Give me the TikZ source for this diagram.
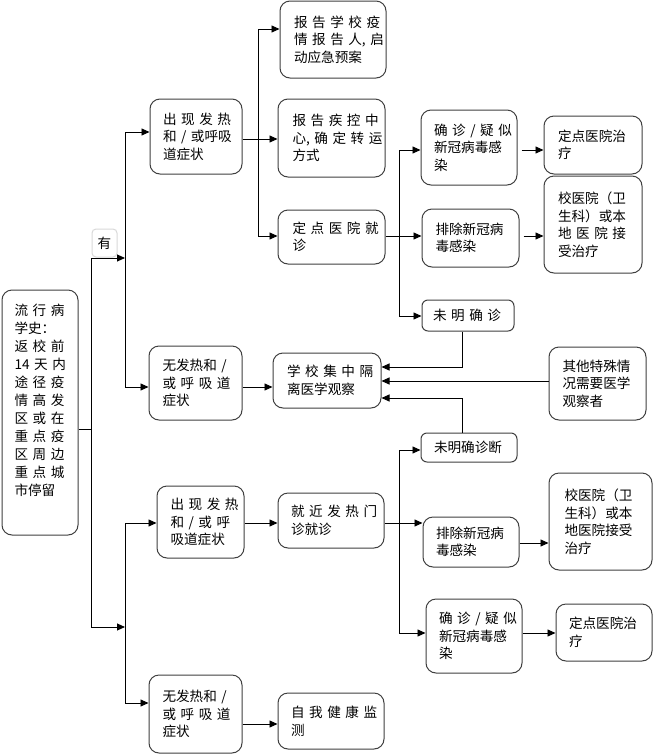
\documentclass[tikz,border=0pt]{standalone}
\usepackage{fontspec}
\newfontfamily\cjk{Noto Sans CJK SC}
\usetikzlibrary{arrows.meta}
\newcommand\J[1]{\makebox[\linewidth][s]{#1}}
\tikzset{
  bx/.style={draw=black!75, line width=1pt, rounded corners=10pt, inner sep=0pt, align=left,
    font={\cjk\fontsize{13.6}{17.5}\selectfont}},
  arr/.style={-{Triangle[length=8pt,width=7pt]}},
  ln/.style={draw=black, line width=0.9pt}
}
\begin{document}
\begin{tikzpicture}[x=1pt,y=-1pt]
\useasboundingbox[fill=white] (0,0) rectangle (654,756);
% boxes
\node[bx, minimum width=76pt, minimum height=245pt, text width=51pt, font={\cjk\fontsize{13.6}{18}\selectfont}] (A) at (40,412.5)
 {\J{流 行 病}\\学史：\\\J{返 校 前}\\\J{14 天 内}\\\J{途 径 疫}\\\J{情 高 发}\\\J{区 或 在}\\\J{重 点 疫}\\\J{区 周 边}\\\J{重 点 城}\\市停留\\[8pt]\mbox{}};
\node[bx, draw=black!15, rounded corners=4pt, minimum width=25pt, minimum height=28pt] (Y) at (104.5,243) {有};
\node[bx, minimum width=106pt, minimum height=77pt, text width=78pt] (B) at (333,39.5)
 {\J{报 告 学 校 疫}\\\J{情 报 告 人, 启}\\动应急预案};
\node[bx, minimum width=107pt, minimum height=78pt, text width=78pt] (C) at (331.5,138)
 {\J{报 告 疾 控 中}\\\J{心, 确 定 转 运}\\方式};
\node[bx, minimum width=107pt, minimum height=54pt, text width=78pt] (D) at (331.5,237)
 {\J{定 点 医 院 就}\\诊};
\node[bx, minimum width=92pt, minimum height=75pt, text width=66pt] (E) at (196,136.5)
 {\J{出 现 发 热}\\\J{和 / 或呼吸}\\道症状};
\node[bx, minimum width=93pt, minimum height=74pt, text width=66pt] (F) at (195.5,383)
 {\J{无发热和 /}\\\J{或 呼 吸 道}\\症状};
\node[bx, minimum width=108pt, minimum height=55pt, text width=80pt] (G) at (327,380.5)
 {\J{学 校 集 中 隔}\\离医学观察};
\node[bx, minimum width=96pt, minimum height=75pt, text width=70pt] (H) at (469,147.5)
 {\J{确 诊 / 疑 似}\\新冠病毒感\\染};
\node[bx, minimum width=97pt, minimum height=58pt, text width=70pt] (I) at (470.5,238)
 {排除新冠病\\毒感染};
\node[bx, rounded corners=6pt, minimum width=92pt, minimum height=31pt, text width=70pt] (Jn) at (468,315.5)
 {\J{未 明 确 诊}};
\node[bx, minimum width=98pt, minimum height=58pt, text width=70pt] (K) at (593,145)
 {定点医院治\\疗};
\node[bx, minimum width=98pt, minimum height=97pt, text width=70pt] (L) at (593,224.5)
 {校医院（卫\\生科）或本\\\J{地 医 院 接}\\受治疗};
\node[bx, minimum width=97pt, minimum height=73pt, text width=70pt] (M) at (597.5,383.5)
 {其他特殊情\\况需要医学\\观察者};
\node[bx, minimum width=87pt, minimum height=72pt, text width=60pt] (N) at (200.5,522)
 {\J{出 现 发 热}\\\J{和 / 或 呼}\\吸道症状};
\node[bx, minimum width=106pt, minimum height=55pt, text width=80pt] (O) at (331,520.5)
 {\J{就 近 发 热 门}\\诊就诊};
\node[bx, minimum width=93pt, minimum height=78pt, text width=66pt] (P) at (195.5,714)
 {\J{无发热和 /}\\\J{或 呼 吸 道}\\症状};
\node[bx, minimum width=106pt, minimum height=56pt, text width=80pt] (Q) at (331,721)
 {\J{自 我 健 康 监}\\测};
\node[bx, rounded corners=6pt, minimum width=96pt, minimum height=29pt, text width=70pt] (R) at (469,447.5)
 {未明确诊断};
\node[bx, minimum width=96pt, minimum height=50pt, text width=70pt] (S) at (471,542)
 {排除新冠病\\毒感染};
\node[bx, minimum width=96pt, minimum height=74pt, text width=70pt] (T) at (474,636)
 {\J{确 诊 / 疑 似}\\新冠病毒感\\染};
\node[bx, minimum width=103pt, minimum height=97pt, text width=72pt] (U) at (600.5,521.5)
 {\J{校医院（卫}\\\J{生科）或本}\\\J{地医院接受}\\治疗};
\node[bx, minimum width=96pt, minimum height=57pt, text width=70pt] (V) at (604,632.5)
 {定点医院治\\疗};
% junction coordinates
\coordinate (jA) at (91,429);
\coordinate (jTop) at (91,258);
\coordinate (jBot) at (91,627);
\coordinate (kTop) at (125,258);
\coordinate (kBot) at (125,627);
\coordinate (k1) at (125,132);
\coordinate (k2) at (125,387);
\coordinate (k3) at (125,523);
\coordinate (k4) at (125,703);
\coordinate (m1) at (258,29);
\coordinate (m2) at (258,139);
\coordinate (m3) at (258,236);
\coordinate (n1) at (399,150);
\coordinate (n2) at (399,236);
\coordinate (n3) at (399,316);
\coordinate (p1) at (462,367);
\coordinate (p2) at (462,398);
\coordinate (g2) at (0,381);
\coordinate (fg) at (0,387);
\coordinate (r1) at (399,450);
\coordinate (r2) at (399,523);
\coordinate (r3) at (399,633);
\coordinate (pq) at (0,724);
\coordinate (su) at (0,543);
% connectors
\draw[ln] (jA -| A.east) -- (jA);
\draw[ln] (jTop) -- (jBot);
\draw[ln,arr] (jTop) -- (kTop);
\draw[ln,arr] (jBot) -- (kBot);
\draw[ln] (k1) -- (k2);
\draw[ln,arr] (k1) -- (k1 -| E.west);
\draw[ln,arr] (k2) -- (k2 -| F.west);
\draw[ln] (k3) -- (k4);
\draw[ln,arr] (k3) -- (k3 -| N.west);
\draw[ln,arr] (k4) -- (k4 -| P.west);
% upper E branch
\draw[ln] (m2 -| E.east) -- (m2);
\draw[ln] (m1) -- (m3);
\draw[ln,arr] (m1) -- (m1 -| B.west);
\draw[ln,arr] (m2) -- (m2 -| C.west);
\draw[ln,arr] (m3) -- (m3 -| D.west);
% D branch
\draw[ln] (n2 -| D.east) -- (n2);
\draw[ln] (n1) -- (n3);
\draw[ln,arr] (n1) -- (n1 -| H.west);
\draw[ln,arr] (n2) -- (n2 -| I.west);
\draw[ln,arr] (n3) -- (n3 -| Jn.west);
\draw[ln,arr,shorten <=4pt] (n1 -| H.east) -- (n1 -| K.west);
\draw[ln,arr,shorten <=4pt] (n2 -| I.east) -- (n2 -| L.west);
% into G
\draw[ln,arr] (fg -| F.east) -- (fg -| G.west);
\draw[ln,arr] (p1 |- Jn.south) -- (p1) -- (p1 -| G.east);
\draw[ln,arr] (g2 -| M.west) -- (g2 -| G.east);
\draw[ln,arr] (p2 |- R.north) -- (p2) -- (p2 -| G.east);
% lower branch
\draw[ln,arr] (k3 -| N.east) -- (k3 -| O.west);
\draw[ln,arr] (pq -| P.east) -- (pq -| Q.west);
\draw[ln] (r2 -| O.east) -- (r2);
\draw[ln] (r1) -- (r3);
\draw[ln,arr] (r1) -- (r1 -| R.west);
\draw[ln,arr] (r2) -- (r2 -| S.west);
\draw[ln,arr] (r3) -- (r3 -| T.west);
\draw[ln,arr] (su -| S.east) -- (su -| U.west);
\draw[ln,arr] (r3 -| T.east) -- (r3 -| V.west);
\end{tikzpicture}
\end{document}
